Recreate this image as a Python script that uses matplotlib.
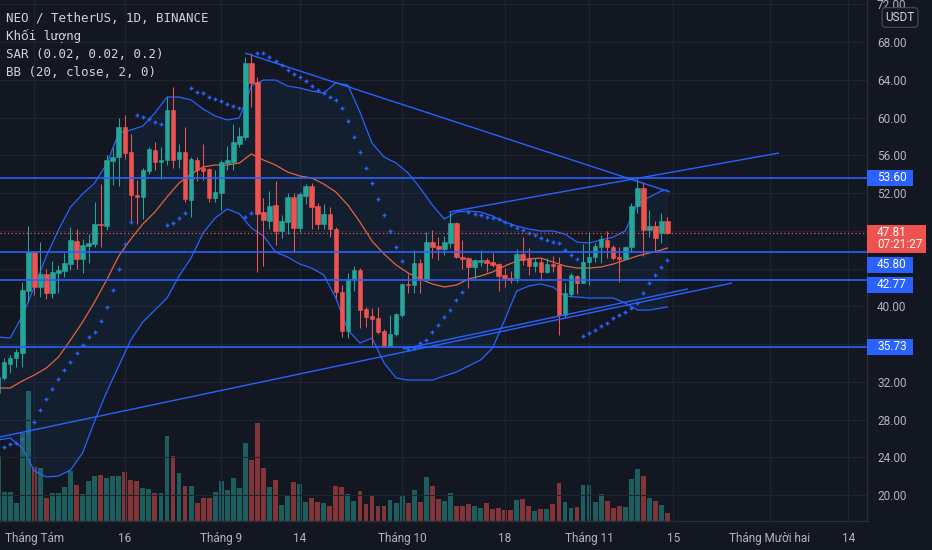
import matplotlib.pyplot as plt
from matplotlib.patches import Rectangle
import numpy as np
import pandas as pd

plt.rcParams.update({
    "font.family": ["Roboto", "DejaVu Sans"],
    "font.size": 8.5,
})

BG = "#131722"
GRID = "#1f232e"
AXIS_TEXT = "#b2b5be"
UP = "#26a69a"
DOWN = "#ef5350"
BLUE = "#2962ff"
BASIS = "#e4653b"

W, H = 932, 550

# NEO / USDT daily candles, 26 Jul -> 14 Nov
dates = pd.date_range("2021-07-26", "2021-11-14", freq="D")

opens = [
    30.82, 32.41, 33.89, 34.53, 35.06, 41.62, 45.75, 42.05, 43.42, 41.41,
    43.53, 43.74, 44.48, 46.92, 45.01, 46.39, 46.60, 48.72, 48.51, 55.39,
    55.82, 59.00, 56.35, 51.79, 51.58, 54.33, 56.56, 55.29, 55.50, 60.80,
    55.61, 56.35, 51.26, 55.50, 54.65, 54.55, 51.47, 52.00, 55.20, 55.29,
    57.20, 57.94, 65.78, 63.76, 50.00, 49.04, 50.73, 47.98, 48.93, 51.58,
    48.30, 51.69, 52.75, 50.63, 48.72, 49.78, 48.19, 41.52, 37.39, 42.79,
    43.85, 39.70, 38.97, 38.76, 37.39, 35.80, 37.07, 39.08, 42.37, 42.26,
    44.59, 42.89, 46.81, 46.39, 46.07, 46.71, 48.83, 45.22, 45.12, 44.17,
    44.70, 44.91, 44.70, 44.48, 43.32, 43.00, 43.00, 45.54, 45.12, 44.27,
    44.70, 43.64, 44.48, 44.38, 39.08, 41.30, 43.21, 42.47, 44.70, 45.22,
    46.28, 47.03, 46.28, 45.22, 45.01, 46.28, 50.63, 52.53, 48.08, 48.51,
    47.77, 49.04]
highs = [
    33.00, 34.50, 34.84, 35.48, 42.58, 48.50, 45.80, 46.81, 43.95, 44.80,
    44.38, 45.65, 48.40, 48.19, 47.13, 47.66, 51.05, 52.96, 56.03, 56.88,
    59.95, 60.27, 58.25, 53.38, 54.65, 56.88, 57.40, 56.88, 62.17, 63.23,
    57.20, 59.00, 55.82, 55.80, 57.20, 54.70, 54.44, 55.50, 56.98, 59.31,
    59.00, 66.41, 66.83, 64.29, 51.47, 52.22, 53.28, 49.67, 52.00, 52.00,
    52.10, 52.96, 53.06, 50.95, 50.84, 50.52, 48.40, 42.26, 43.53, 44.27,
    44.10, 39.93, 39.80, 39.93, 37.60, 39.08, 39.30, 42.47, 43.42, 45.97,
    45.01, 47.87, 48.08, 47.34, 47.45, 49.99, 48.90, 47.03, 45.20, 45.00,
    45.97, 45.10, 45.65, 44.60, 44.06, 43.74, 46.07, 47.34, 46.18, 45.12,
    45.12, 45.12, 45.33, 45.22, 42.47, 43.53, 43.32, 46.60, 47.87, 46.71,
    47.55, 47.98, 46.50, 46.28, 46.39, 50.95, 53.60, 53.17, 50.20, 49.04,
    49.89, 49.46]
lows = [
    30.40, 32.20, 32.94, 33.57, 33.57, 40.46, 41.20, 40.99, 40.78, 40.88,
    41.41, 43.10, 43.85, 43.95, 43.53, 44.59, 46.28, 46.28, 48.08, 52.85,
    52.75, 55.61, 48.93, 48.72, 49.25, 54.02, 54.44, 53.49, 54.97, 54.65,
    54.65, 51.05, 49.46, 53.28, 53.38, 51.05, 51.05, 50.20, 54.44, 54.44,
    56.88, 57.62, 61.11, 43.64, 44.27, 48.19, 46.50, 47.24, 47.66, 45.75,
    47.87, 50.84, 48.19, 48.19, 48.19, 47.34, 40.88, 36.75, 36.64, 41.62,
    37.70, 37.80, 35.90, 37.07, 35.69, 35.69, 36.86, 38.87, 41.41, 41.41,
    41.41, 42.79, 45.12, 44.91, 45.44, 46.18, 45.12, 43.95, 41.94, 42.89,
    44.27, 43.64, 44.17, 41.62, 42.05, 42.47, 42.58, 44.38, 43.32, 43.64,
    42.79, 43.53, 43.64, 36.96, 38.87, 40.99, 41.30, 42.47, 42.26, 44.70,
    44.59, 45.12, 44.91, 42.58, 44.91, 45.75, 49.89, 45.33, 47.34, 45.75,
    46.71, 47.70]
closes = [
    32.51, 34.10, 34.53, 35.16, 41.73, 45.75, 42.05, 43.42, 41.41, 43.64,
    43.85, 44.59, 47.03, 45.01, 46.50, 46.71, 48.72, 48.60, 55.50, 55.82,
    59.00, 56.24, 51.79, 51.58, 54.44, 56.67, 55.29, 55.50, 60.80, 55.50,
    56.35, 51.37, 55.61, 54.44, 54.33, 51.47, 52.11, 55.29, 55.50, 57.40,
    58.04, 65.78, 63.66, 49.78, 49.14, 50.63, 47.98, 49.04, 51.58, 48.30,
    51.90, 52.75, 50.52, 48.72, 49.78, 48.19, 41.52, 37.39, 42.89, 43.85,
    39.61, 38.87, 38.66, 37.28, 35.80, 37.07, 39.19, 42.37, 42.26, 44.59,
    42.89, 46.81, 46.28, 46.07, 46.81, 48.83, 45.22, 45.01, 44.17, 44.91,
    44.91, 44.59, 44.38, 43.21, 43.00, 42.79, 45.54, 44.91, 44.27, 44.70,
    43.64, 44.48, 44.27, 39.08, 41.41, 43.32, 42.47, 44.70, 45.22, 46.39,
    47.13, 46.28, 45.12, 45.01, 46.28, 50.63, 52.53, 48.08, 48.51, 47.24,
    49.04, 47.81]
volume = [
    65, 29, 29, 18, 88, 130, 54, 53, 23, 28,
    28, 34, 50, 36, 27, 40, 45, 46, 43, 45,
    45, 49, 41, 40, 33, 32, 28, 28, 85, 65,
    48, 35, 35, 18, 23, 23, 29, 40, 31, 43,
    33, 78, 61, 98, 53, 34, 41, 16, 25, 39,
    37, 19, 23, 19, 18, 15, 35, 34, 27, 20,
    30, 17, 26, 15, 15, 21, 18, 25, 18, 31,
    19, 44, 35, 22, 20, 28, 15, 15, 17, 15,
    13, 18, 12, 13, 11, 11, 21, 22, 15, 10,
    12, 12, 17, 38, 19, 13, 14, 36, 36, 19,
    27, 20, 13, 15, 14, 42, 52, 45, 23, 20,
    16, 8]

# Bollinger bands (20, close, 2), read every second day
bb_dates = list(pd.date_range("2021-07-26", "2021-11-13", freq="2D")) + [pd.Timestamp("2021-11-14")]
bb_upper = [
    36.75, 36.64, 38.97, 42.05, 45.33, 48.08, 50.52, 51.90, 53.06, 55.08,
    58.36, 58.68, 59.10, 60.48, 62.17, 62.17, 61.86, 60.90, 60.16, 59.74,
    59.95, 63.34, 63.97, 63.97, 63.34, 63.13, 62.81, 62.60, 63.66, 63.44,
    60.58, 57.30, 55.82, 55.18, 54.12, 52.53, 50.73, 49.25, 49.99, 50.10,
    49.99, 49.57, 48.93, 48.51, 48.19, 47.98, 47.98, 47.66, 46.81, 46.71,
    47.03, 47.34, 47.98, 50.80, 51.58, 52.22, 52.32]
bb_basis = [
    31.35, 31.35, 32.09, 32.72, 33.47, 34.63, 36.43, 38.34, 40.46, 42.79,
    45.33, 47.13, 48.72, 49.99, 51.58, 53.06, 54.02, 54.76, 54.97, 54.97,
    55.18, 56.14, 55.50, 54.97, 54.23, 53.81, 53.59, 52.96, 52.11, 50.73,
    48.93, 46.92, 45.54, 44.38, 43.53, 42.89, 42.37, 42.05, 42.26, 42.89,
    43.21, 43.64, 44.27, 44.80, 45.01, 45.12, 44.70, 44.27, 44.06, 44.06,
    44.17, 44.48, 44.91, 45.33, 45.65, 45.97, 46.18]
bb_lower = [
    25.84, 26.05, 25.00, 22.56, 21.92, 22.03, 22.66, 24.46, 27.85, 30.92,
    33.68, 36.43, 38.34, 39.61, 40.88, 43.21, 45.12, 47.77, 49.36, 50.31,
    49.80, 48.30, 47.45, 45.75, 45.22, 44.48, 44.06, 43.32, 40.88, 37.49,
    36.11, 36.64, 34.00, 32.41, 32.19, 32.19, 32.19, 32.62, 33.04, 33.68,
    34.31, 35.58, 38.55, 41.62, 42.15, 42.37, 42.05, 41.09, 40.99, 40.88,
    40.88, 40.88, 40.35, 39.61, 39.61, 39.82, 39.93]

# Parabolic SAR (0.02, 0.02, 0.2), from 27 Jul
sar = [
    25.10, 25.42, 25.52, 25.95, 26.79, 27.75, 29.02, 30.18, 31.24, 32.30,
    33.26, 34.10, 35.06, 35.90, 36.75, 37.28, 38.45, 39.93, 41.73, 43.95,
    46.60, 48.93, 60.27, 60.06, 59.84, 59.53, 59.31, 48.62, 48.83, 49.36,
    49.89, 63.13, 62.70, 62.60, 62.17, 61.96, 61.75, 61.43, 61.22, 61.01,
    49.46, 49.89, 66.84, 66.84, 66.41, 65.99, 65.56, 65.03, 64.61, 64.29,
    63.87, 63.34, 62.92, 62.60, 62.17, 61.86, 61.01, 59.63, 57.94, 56.35,
    54.65, 53.06, 51.37, 49.68, 47.98, 46.29, 44.80, 35.48, 35.59, 36.12,
    36.43, 37.28, 38.02, 38.87, 39.61, 40.67, 41.52, 49.99, 49.78, 49.68,
    49.46, 49.36, 49.25, 48.93, 48.62, 48.30, 48.09, 47.77, 47.56, 47.24,
    47.03, 46.81, 46.71, 45.97, 45.44, 45.01, 36.86, 37.18, 37.49, 37.92,
    38.23, 38.76, 39.08, 39.40, 39.82, 40.35, 41.41, 42.47, 43.32, 44.17,
    44.91]
sar_dates = dates[1:]

# drawings: trend lines (start date, price, end date, price) and levels
trend_lines = [
    ("2021-07-26 07:30", 26.16, "2021-11-24 17:00", 42.47),
    ("2021-10-01 03:20", 35.48, "2021-11-17 09:30", 41.84),
    ("2021-10-08 18:30", 49.99, "2021-12-02 12:00", 56.24),
    ("2021-09-04 22:30", 66.83, "2021-11-14 10:00", 52.11),
]
levels = [53.60, 45.80, 42.77, 35.73]
last_price = 47.81
countdown = "07:21:27"

tick_dates = ["2021-08-01", "2021-08-16", "2021-09-01", "2021-09-14", "2021-10-01",
              "2021-10-18", "2021-11-01", "2021-11-15", "2021-12-01", "2021-12-14"]
tick_labels = ["Tháng Tám", "16", "Tháng 9", "14", "Tháng 10",
               "18", "Tháng 11", "15", "Tháng Mười hai", "14"]

legend_lines = ["NEO / TetherUS, 1D, BINANCE", "Khối lượng",
                "SAR (0.02, 0.02, 0.2)", "BB (20, close, 2, 0)"]

# ---- convert dates to day numbers (0 = 1 Aug)
t0 = pd.Timestamp("2021-08-01")
def day(d):
    return (pd.Timestamp(d) - t0) / pd.Timedelta(days=1)

x = np.array([day(d) for d in dates])
o, h, l, c = map(np.array, (opens, highs, lows, closes))
up = c >= o
colors = np.where(up, UP, DOWN)

fig = plt.figure(figsize=(W / 100, H / 100), dpi=100, facecolor=BG)
rect = [0, (H - 521) / H, 867 / W, 521 / H]
vax = fig.add_axes(rect)
ax = fig.add_axes(rect)
vax.set_zorder(0)
ax.set_zorder(1)
ax.patch.set_alpha(0)
vax.set_facecolor(BG)

xlim = (-5.69, 138.09)
ylim = (17.26, 72.449)

# volume overlay
vax.bar(x, volume, width=0.8, color=colors, alpha=0.5, linewidth=0)
vax.set_xlim(*xlim)
vax.set_ylim(0, max(volume) * 4.0)
vax.set_axis_off()

ax.set_xlim(*xlim)
ax.set_ylim(*ylim)

# Bollinger bands
bx = np.array([day(d) for d in bb_dates])
ax.fill_between(bx, bb_lower, bb_upper, color="#2196f3", alpha=0.06, linewidth=0, zorder=1)
ax.plot(bx, bb_upper, color=BLUE, lw=0.9, zorder=3)
ax.plot(bx, bb_lower, color=BLUE, lw=0.9, zorder=3)
ax.plot(bx, bb_basis, color=BASIS, lw=0.9, zorder=3)

# candles
ax.vlines(x, l, h, colors=colors, lw=0.75, zorder=4)
body_lo = np.minimum(o, c)
body_h = np.maximum(np.abs(c - o), 0.08)
ax.bar(x, body_h, bottom=body_lo, width=0.75, color=colors, edgecolor=colors,
       linewidth=0.4, zorder=5)

# SAR
sx = np.array([day(d) for d in sar_dates])
ax.plot(sx, sar, linestyle="none", marker="+", ms=3.4, mew=1.0, color=BLUE, zorder=6)

# drawings
for lv in levels:
    ax.axhline(lv, color=BLUE, lw=1.2, zorder=7)
for d0, p0, d1, p1 in trend_lines:
    ax.plot([day(d0), day(d1)], [p0, p1], color=BLUE, lw=1.0, zorder=7,
            solid_capstyle="butt")
ax.axhline(last_price, color=DOWN, lw=0.9, ls=(0, (1, 2)), zorder=7)

# axes styling
for side in ("top", "left"):
    ax.spines[side].set_visible(False)
for side in ("right", "bottom"):
    ax.spines[side].set_color("#2a2e39")
    ax.spines[side].set_linewidth(1.0)

label_prices = levels + [last_price]
yt = np.arange(20, 73, 4)
ax.set_yticks(yt)
ax.set_yticklabels(["" if min(abs(t - p) for p in label_prices) < 1.5 else f"{t:.2f}" for t in yt])
ax.yaxis.tick_right()
ax.tick_params(axis="y", length=0, pad=7.2, colors=AXIS_TEXT, labelsize=8.5)

ax.set_xticks([day(d) for d in tick_dates])
ax.set_xticklabels(tick_labels)
ax.tick_params(axis="x", length=0, pad=8, colors=AXIS_TEXT, labelsize=8.5)
ax.grid(True, color=GRID, lw=0.8, zorder=0)
ax.set_axisbelow(True)

# legend text, top left
for i, txt in enumerate(legend_lines):
    ax.text(6 / 867, 1 - (18 + 18 * i) / 521, txt, transform=ax.transAxes,
            ha="left", va="center", color="#d1d4dc", fontsize=9,
            family=["DejaVu Sans Mono", "DejaVu Sans"], zorder=10)

# price scale labels with simple overlap avoidance (pixels from top)
def px_from_top(p):
    return H - ax.transData.transform((0, p))[1]

boxes = [(53.60, BLUE, ["53.60"]), (last_price, DOWN, [f"{last_price:.2f}", countdown]),
         (45.80, BLUE, ["45.80"]), (42.77, BLUE, ["42.77"]), (35.73, BLUE, ["35.73"])]
boxes.sort(key=lambda b: -b[0])
prev_bottom = -1e9
for price, col, lines in boxes:
    cy = max(px_from_top(price), prev_bottom + 12)
    below = 8 + 12 * (len(lines) - 1)
    right = 926 if len(lines) > 1 else 913
    fig.patches.append(Rectangle((867 / W, 1 - (cy + below) / H), (right - 867) / W,
                                 (8 + below) / H, transform=fig.transFigure,
                                 facecolor=col, edgecolor="none", zorder=20))
    for k, s in enumerate(lines):
        fig.text(877 / W, 1 - (cy + 11.5 * k) / H, s, ha="left", va="center",
                 color="white", fontsize=8.5, zorder=21)
    prev_bottom = cy + below

# currency badge, sits over the clipped 72.00 label as in the terminal
fig.text(900 / W, 1 - 17.5 / H, "USDT", ha="center", va="center", color="#d1d4dc",
         fontsize=8.5, zorder=22,
         bbox=dict(boxstyle="round,pad=0.28,rounding_size=0.3", fc=BG, ec="#4a4e59", lw=0.8))

fig.savefig("out.png", dpi=100, facecolor=BG)
